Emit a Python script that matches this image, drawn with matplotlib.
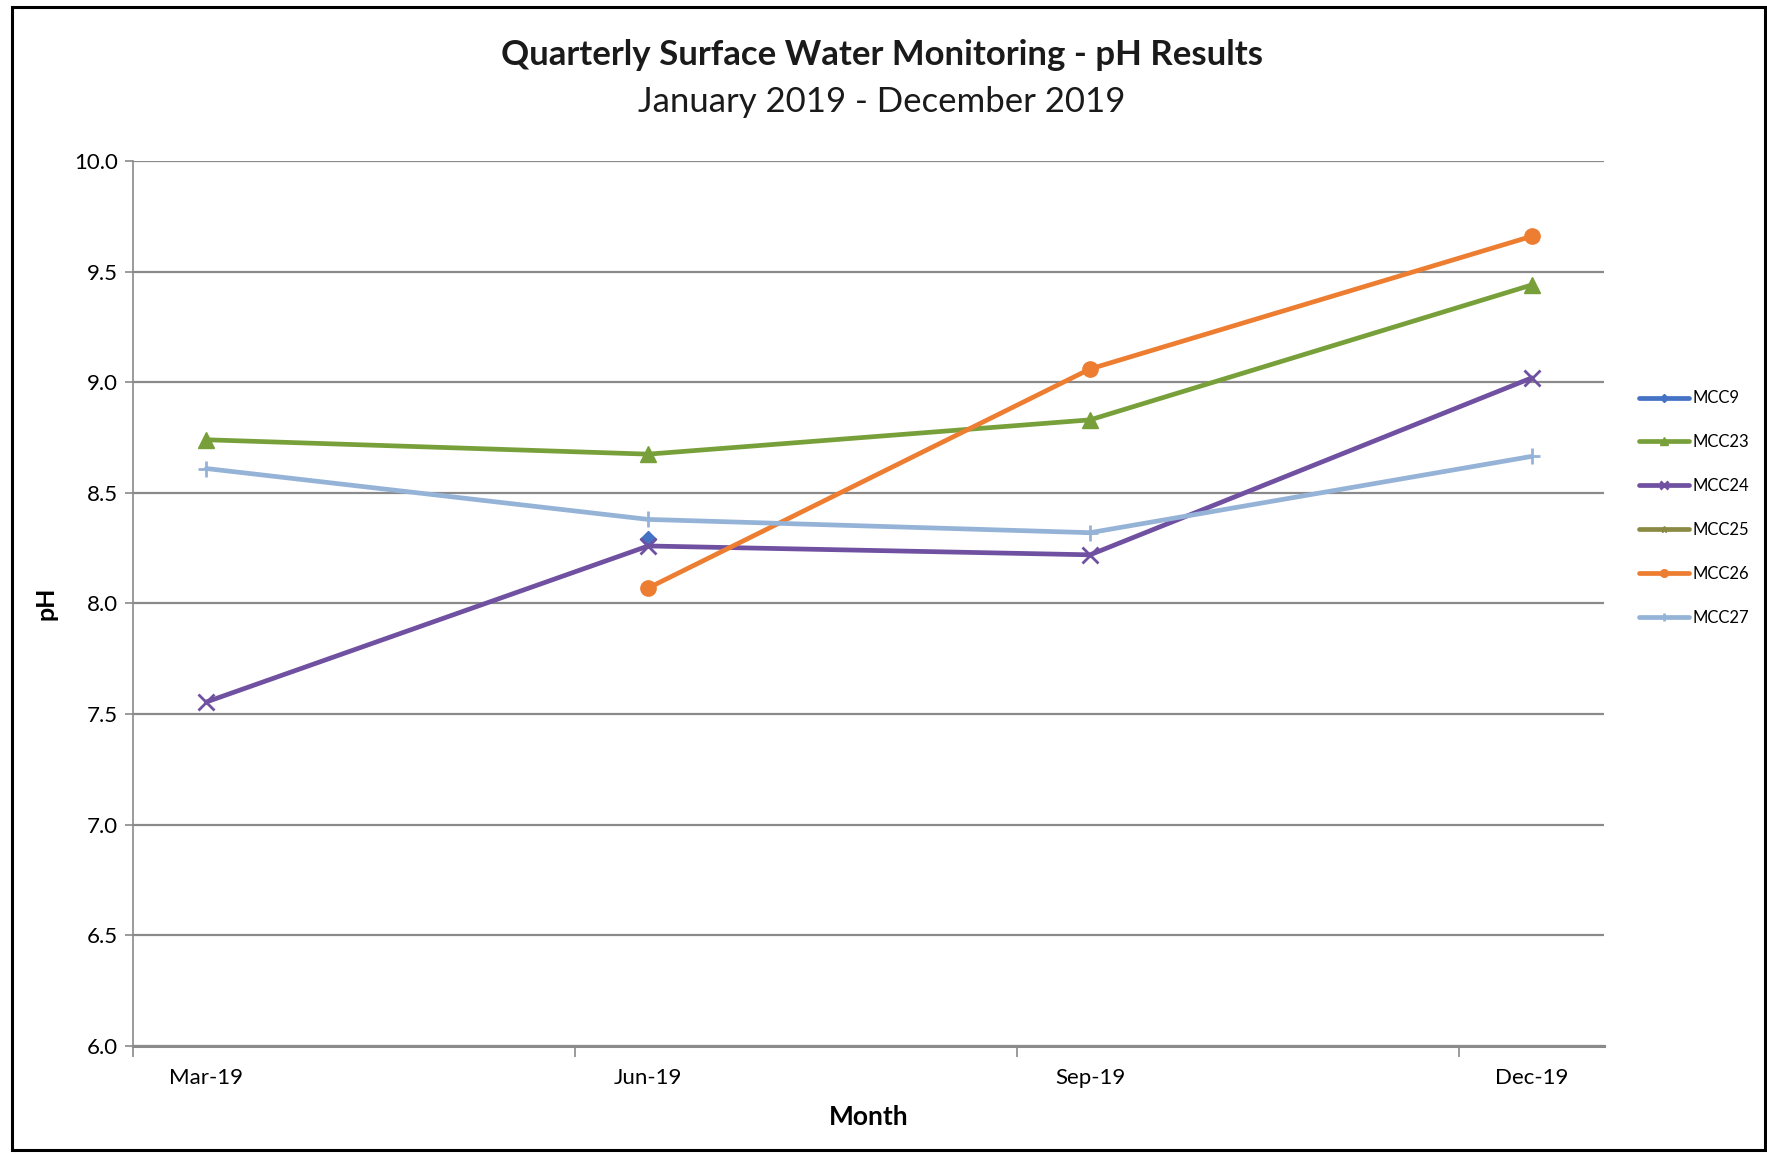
import numpy as np
import matplotlib
matplotlib.use("Agg")
import matplotlib.pyplot as plt
from matplotlib.patches import Rectangle

plt.rcParams['font.family'] = ['Lato', 'DejaVu Sans']

months = ["Mar-19", "Jun-19", "Sep-19", "Dec-19"]
nan = np.nan
mcc9 = [nan, 8.29, nan, nan]
mcc23 = [8.74, 8.675, 8.83, 9.44]
mcc24 = [7.555, 8.26, 8.22, 9.02]
mcc25 = [nan, nan, nan, nan]
mcc26 = [nan, 8.07, 9.06, 9.66]
mcc27 = [8.61, 8.38, 8.32, 8.665]
yticks = [6.0, 6.5, 7.0, 7.5, 8.0, 8.5, 9.0, 9.5, 10.0]

series = [
    ("MCC9", mcc9, "#4472C4", "D", 8),
    ("MCC23", mcc23, "#77A03B", "^", 11),
    ("MCC24", mcc24, "#7050A0", "x", 11),
    ("MCC25", mcc25, "#8A8A45", "*", 9),
    ("MCC26", mcc26, "#ED7D31", "o", 11),
    ("MCC27", mcc27, "#95B3D7", "+", 12),
]

fig = plt.figure(figsize=(17.67, 11.55), dpi=100)
ax = fig.add_axes([0.0753, 0.0944, 0.8324, 0.7662])

x = np.arange(len(months))
handles = []
for name, vals, col, mk, ms in series:
    v = np.array(vals, dtype=float)
    h, = ax.plot(x, v, color=col, lw=3.4, marker=mk, markersize=ms,
                 markeredgewidth=2 if mk in "x+" else 1, markeredgecolor=col,
                 label=name, solid_capstyle='round', zorder=3)
    handles.append(h)

ax.set_ylim(6.0, 10.0)
ax.set_xlim(-0.166, 3.163)
ax.set_yticks(yticks)
ax.set_yticklabels([f"{t:.1f}" for t in yticks], fontsize=16)
ax.yaxis.grid(True, color="#8a8a8a", lw=1.6)
ax.set_axisbelow(True)
ax.tick_params(axis='y', length=6, color="#8a8a8a", width=1.2, pad=5)

# category ticks between categories, labels at categories
ax.set_xticks(x - 0.166, minor=True)
ax.set_xticks(x)
ax.set_xticklabels(months, fontsize=16)
ax.tick_params(axis='x', which='major', length=0, pad=16)
ax.tick_params(axis='x', which='minor', length=8, color="#8a8a8a", width=1.2)

for s in ["top", "right"]:
    ax.spines[s].set_visible(False)
ax.spines["left"].set_color("#8a8a8a")
ax.spines["left"].set_linewidth(1.2)
ax.spines["bottom"].set_color("#8a8a8a")
ax.spines["bottom"].set_linewidth(2.2)

ax.set_ylabel("pH", fontsize=18, fontweight="bold", labelpad=12)
ax.set_xlabel("Month", fontsize=19, fontweight="bold", labelpad=12)

fig.text(0.4992, 0.952, "Quarterly Surface Water Monitoring - pH Results",
         ha="center", va="center", fontsize=25, fontweight="bold", color="#1a1a1a")
fig.text(0.4992, 0.912, "January 2019 - December 2019",
         ha="center", va="center", fontsize=25, color="#1a1a1a")

leg = fig.legend(handles=handles, loc="upper left",
                 bbox_to_anchor=(0.919, 0.675), frameon=False,
                 fontsize=12, handlelength=3.0, handletextpad=0.2,
                 labelspacing=1.67, markerscale=0.5)
for line in leg.get_lines():
    line.set_linewidth(3.4)

fig.patches.append(Rectangle((0.007, 0.004), 0.992, 0.99, transform=fig.transFigure,
                             fill=False, edgecolor="black", lw=2.2))

fig.savefig("out.png", dpi=100)
